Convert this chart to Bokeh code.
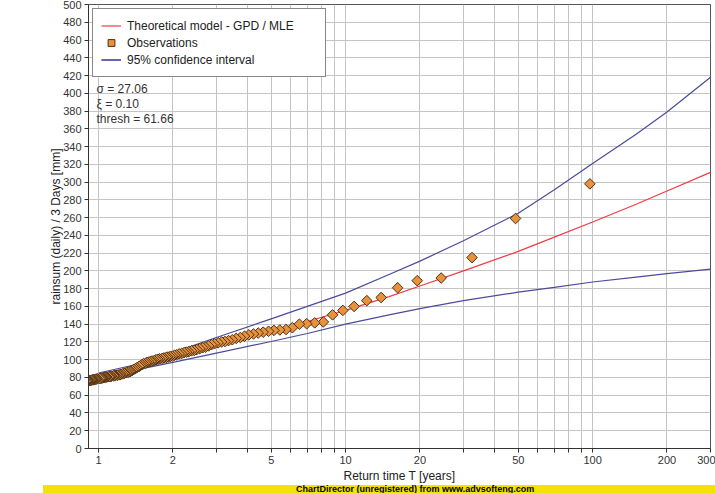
import numpy as np
from bokeh.plotting import figure
from bokeh.models import (Range1d, FixedTicker, SingleIntervalTicker, NumeralTickFormatter,
                          Legend, LegendItem, Label, Div, ColumnDataSource)
from bokeh.layouts import column
from bokeh.embed import file_html
from bokeh.resources import INLINE

# ---------------- data ----------------
# Model / confidence interval curves sampled at return periods
curve_T = [1, 1.5, 2, 3, 5, 7, 10, 15, 20, 30, 50, 70, 100, 150, 200, 300]
model_gpd = [83, 94, 103, 115.5, 132, 143, 155.5, 171, 183, 200, 222, 238, 255, 275, 290, 311]
ci_upper = [85, 96, 108, 125, 146, 160, 175, 196, 211, 234, 265, 291.5, 321, 354, 379, 418]
ci_lower = [80, 90, 97, 107.5, 120.5, 129.5, 140, 150.5, 157.5, 166.5, 176, 181.5, 187.5, 193, 197, 202]

# Observations: return period [years] and value [mm]
obs_T = [97.5, 48.75, 32.5, 24.38, 19.5, 16.25, 13.93, 12.19, 10.83, 9.75,
         8.86, 8.13, 7.5, 6.96, 6.5, 6.09, 5.74, 5.42, 5.13, 4.88,
         4.64, 4.43, 4.24, 4.06, 3.9, 3.75, 3.61, 3.48, 3.36, 3.25,
         3.15, 3.05, 2.95, 2.87, 2.79, 2.71, 2.64, 2.57, 2.5, 2.44,
         2.38, 2.32, 2.27, 2.22, 2.17, 2.12, 2.07, 2.03, 1.99, 1.95,
         1.91, 1.88, 1.84, 1.81, 1.77, 1.74, 1.71, 1.68, 1.65, 1.63,
         1.60, 1.57, 1.55, 1.52, 1.5, 1.48, 1.46, 1.43, 1.41, 1.39,
         1.37, 1.35, 1.34, 1.32, 1.3, 1.28, 1.27, 1.25, 1.23, 1.22,
         1.20, 1.19, 1.17, 1.16, 1.15, 1.13, 1.12, 1.11, 1.10, 1.08,
         1.07, 1.06, 1.05, 1.04, 1.03, 1.02, 1.01, 0.99, 0.98, 0.975,
         0.965, 0.956, 0.947, 0.938, 0.929, 0.920, 0.911, 0.903, 0.894, 0.886]
obs_val = [298, 259, 215, 192, 189, 181, 170, 166.5, 160, 155.5,
           150.5, 142.5, 141.5, 140.5, 140, 136, 134, 133.5, 133, 132,
           131, 130, 129, 128, 126.5, 125, 124, 122.5, 121.5, 120.5,
           120, 119, 118, 117, 115.5, 114, 113.5, 112.5, 111.5, 110.5,
           110, 109, 108.5, 108, 107, 106.5, 105.5, 105, 104, 103.5,
           103, 102.5, 102, 101.5, 101, 100.5, 100, 99, 98.5, 98,
           97.5, 97, 96, 95.5, 94.5, 93.5, 92.5, 91, 90, 89,
           88, 87, 86.5, 86, 85.5, 85, 84.5, 84, 83.5, 83,
           82.8, 82.5, 82.2, 82, 81.8, 81.5, 81.2, 81, 80.8, 80.5,
           80.3, 80, 79.8, 79.5, 79.2, 79, 78.8, 78.5, 78.2, 78,
           77.8, 77.5, 77.3, 77, 76.8, 76.5, 76.3, 76, 75.8, 75.5]

x_major = [1, 2, 5, 10, 20, 50, 100, 200, 300]
x_minor = [3, 4, 6, 7, 8, 9, 30, 40, 60, 70, 80, 90]

stats_lines = ["σ = 27.06", "ξ = 0.10", "thresh = 61.66"]
stats_y = [405.4, 388.5, 371.6]

legend_labels = ["Theoretical model - GPD / MLE", "Observations", "95% confidence interval"]

# ---------------- figure ----------------
FONT = "Liberation Sans"
RED = "#f03c46"
BLUE = "#4b4b9b"
ORANGE = "#e8923c"
DARK = "#4a3018"

p = figure(width=715, height=485, x_axis_type="log",
           x_range=Range1d(0.911, 300), y_range=Range1d(0, 500),
           output_backend="svg", toolbar_location=None,
           min_border_left=88, min_border_right=5, min_border_top=4, min_border_bottom=37)
p.background_fill_color = "white"
p.border_fill_color = "white"
p.outline_line_color = "#555555"
p.outline_line_width = 1

# axes
p.xaxis.ticker = FixedTicker(ticks=x_major, minor_ticks=x_minor)
p.xaxis.formatter = NumeralTickFormatter(format="0")
p.yaxis.ticker = SingleIntervalTicker(interval=20, num_minor_ticks=0)
for ax in (p.xaxis[0], p.yaxis[0]):
    ax.axis_line_color = "#333333"
    ax.major_tick_line_color = "#333333"
    ax.minor_tick_line_color = "#333333"
    ax.major_tick_out = 4
    ax.major_tick_in = 0
    ax.minor_tick_out = 4
    ax.minor_tick_in = 0
    ax.major_label_text_font = FONT
    ax.major_label_text_font_size = "11px"
    ax.major_label_text_color = "#333333"
    ax.axis_label_text_font = FONT
    ax.axis_label_text_font_size = "12px"
    ax.axis_label_text_font_style = "normal"
    ax.axis_label_text_color = "#222222"
p.xaxis.axis_label = "Return time T [years]"
p.yaxis.axis_label = "rainsum (daily) / 3 Days [mm]"
p.xaxis.major_label_standoff = 3
p.xaxis.axis_label_standoff = 2
p.yaxis.major_label_standoff = 3
p.yaxis.axis_label_standoff = -3
p.yaxis.minor_tick_line_color = None

# grid
p.xgrid.grid_line_color = "#c4c4c4"
p.xgrid.minor_grid_line_color = "#c4c4c4"
p.ygrid.grid_line_color = "#c4c4c4"

# lines
r_model = p.line(curve_T, model_gpd, line_color=RED, line_width=1.2)
r_up = p.line(curve_T, ci_upper, line_color=BLUE, line_width=1.2)
r_lo = p.line(curve_T, ci_lower, line_color=BLUE, line_width=1.2)

src = ColumnDataSource(dict(x=obs_T, y=obs_val))
r_obs = p.scatter("x", "y", source=src, marker="square", angle=np.pi / 4, size=7.5,
                  fill_color=ORANGE, line_color=DARK, line_width=1)

legend = Legend(items=[LegendItem(label=legend_labels[0], renderers=[r_model]),
                       LegendItem(label=legend_labels[1], renderers=[r_obs]),
                       LegendItem(label=legend_labels[2], renderers=[r_up, r_lo])],
                location="top_left", margin=4, padding=8, spacing=0,
                glyph_width=20, glyph_height=17, label_standoff=6, label_width=190,
                label_height=14,
                label_text_font=FONT, label_text_font_size="12px", label_text_color="#222222",
                border_line_color="#111111", border_line_width=1,
                background_fill_color="white", background_fill_alpha=1)
p.add_layout(legend)

for txt, yy in zip(stats_lines, stats_y):
    p.add_layout(Label(x=0.9815, y=yy, text=txt, text_font=FONT, text_font_size="12px",
                       text_color="#333333", text_baseline="middle", text_align="left"))

bar = Div(text="ChartDirector (unregistered) from www.advsofteng.com",
          width=672, height=8, margin=(0, 0, 0, 43),
          styles={"background-color": "#f2e205", "color": "#000", "font-family": FONT,
                  "font-size": "9px", "font-weight": "bold", "line-height": "8px",
                  "overflow": "hidden", "padding-left": "253px", "box-sizing": "border-box",
                  "white-space": "nowrap"})

layout = column(p, bar, spacing=0)

open("out.html", "w").write(file_html(layout, INLINE))
